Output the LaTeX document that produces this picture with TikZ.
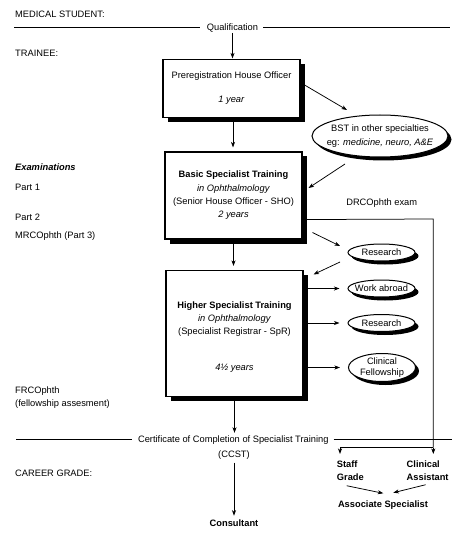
\documentclass[tikz,border=0pt]{standalone}
\usepackage{fontspec}
\setmainfont{Liberation Sans}
\usetikzlibrary{shapes.geometric,shadows,arrows.meta,calc}
\newcommand\dgfont{\fontsize{9.3}{13}\selectfont}
\newcommand\dgfontB{\fontsize{9.3}{13.3}\selectfont}
\begin{document}
\begin{tikzpicture}[x=1pt,y=-1pt,
  font=\dgfont,
  ln/.style={line width=0.75pt},
  arr/.style={ln,-{Stealth[length=5.5pt,width=4pt,inset=1.5pt]}},
  boxnode/.style={draw,line width=1.1pt,fill=white,align=center,inner sep=0pt,minimum width=137pt,
     drop shadow={shadow xshift=4.5pt,shadow yshift=-4.5pt,opacity=1,fill=black}},
  ell/.style={ellipse,draw,line width=1pt,fill=white,align=center,inner xsep=-6pt,inner ysep=-2pt,
     minimum width=67pt,minimum height=17pt,
     drop shadow={shadow xshift=3.5pt,shadow yshift=-3.5pt,opacity=1,fill=black}},
  txt/.style={inner sep=0pt,text height=6.6pt,text depth=0pt},
  lbl/.style={txt,anchor=west},
  grade/.style={inner sep=0pt,align=left,anchor=north west,font=\dgfont\bfseries},
]
\useasboundingbox (0,0) rectangle (474,545);
\fill[white] (0,0) rectangle (474,545);

% left labels
\node[lbl] (med) at (15,14.2) {MEDICAL STUDENT:};
\node[lbl] (trn) at (15,53.7) {TRAINEE:};
\node[lbl,font=\dgfont\bfseries\itshape] (exam) at (15,167.4) {Examinations};
\node[lbl] (p1) at (15,186.7) {Part 1};
\node[lbl] (p2) at (15,217.3) {Part 2};
\node[lbl] (p3) at (15,235) {MRCOphth (Part 3)};
\node[lbl] (fr) at (15,390) {FRCOphth};
\node[lbl] (fa) at (15,402.7) {(fellowship assesment)};
\node[lbl] (cg) at (15,473.3) {CAREER GRADE:};

% qualification rule
\node[txt] (qual) at (232.5,27.5) {Qualification};
\coordinate (ruleL) at (14,0);
\coordinate (ruleR) at (450,0);
\draw[ln] ([xshift=-7pt]qual.west) -- (qual.west -| ruleL);
\draw[ln] ([xshift=5pt]qual.east) -- (qual.east -| ruleR);

% boxes
\node[boxnode,minimum height=58pt] (prho) at (231.5,88.5)
  {Preregistration House Officer\\[11pt]\textit{1 year}};
\node[boxnode,minimum height=87pt,font=\dgfontB] (bst) at (233.5,195.5)
  {\textbf{Basic Specialist Training}\\\textit{in Ophthalmology}\\(Senior House Officer - SHO)\\\textit{2 years}};
\node[boxnode,minimum height=126pt,font=\dgfont] (hst) at (234.5,333.5)
  {\rule{0pt}{14pt}\textbf{Higher Specialist Training}\\\textit{in Ophthalmology}\\(Specialist Registrar - SpR)\\[22.5pt]\textit{4½ years}};

% ellipses
\node[ell,minimum width=136pt,minimum height=42pt,font=\fontsize{9.3}{13.4}\selectfont] (bstell) at (380,136)
  {BST in other specialties\\eg: \textit{medicine, neuro, A\&E}};
\node[ell] (resA) at (381.5,252.5) {Research};
\node[ell] (work) at (381.5,288.5) {Work abroad};
\node[ell] (resB) at (381.5,323) {Research};
\node[ell,minimum height=28pt,font=\fontsize{9.3}{11}\selectfont] (cf) at (382,367.5) {Clinical\\Fellowship};

\node[txt] (drc) at (381.7,202.4) {DRCOphth exam};

% CCST rule
\node[txt] (cert) at (233.3,439.3) {Certificate of Completion of Specialist Training};
\node[txt] (ccst) at (234,454.2) {(CCST)};
\coordinate (ccL) at (16,0);
\coordinate (ccR) at (451.7,0);
\draw[ln] ([xshift=-6pt]cert.west) -- (cert.west -| ccL);
\draw[ln] ([xshift=5pt]cert.east) -- (cert.east -| ccR);

% career grades
\node[txt,font=\dgfont\bfseries] (cons) at (234,522.7) {Consultant};
\node[grade] (staff) at (336.7,460.5) {Staff\\Grade};
\node[grade] (clin) at (406.5,460.5) {Clinical\\Assistant};
\node[txt,font=\dgfont\bfseries] (assoc) at (383,504.2) {Associate Specialist};

% main vertical arrows
\draw[arr] ([yshift=-2pt]qual.south) -- ([yshift=0.5pt]qual.south |- prho.north);
\draw[arr] ($(prho.south)+(1.5,0)$) -- ($(prho.south |- bst.north)+(1.5,-4)$);
\draw[arr] (bst.south) -- ($(bst.south |- hst.north)+(0,-4)$);
\draw[arr] (hst.south) -- ($(hst.south |- cert.north)+(0,-3)$);
\draw[arr] ($(ccst.south)+(0,5)$) -- ($(ccst.south |- cons.north)+(0,-3.5)$);

% side arrows
\draw[arr] ($(prho.east)+(4,-3.5)$) -- ($(bstell.center)+(-33,-26)$);
\draw[arr] ($(bstell.center)+(-35,28)$) -- ($(bst.east)+(6,-7.5)$);
\draw[arr] ($(bst.south east)+(10,-7)$) -- ($(resA.center)+(-41.5,-6.5)$);
\draw[arr] ($(resA.center)+(-41.5,9.5)$) -- ($(hst.north east)+(10,4.5)$);
\draw[arr] ($(hst.east |- work.center)+(4,0)$) -- ($(work.west)+(-8,0)$);
\draw[arr] ($(hst.east |- resB.center)+(4,0)$) -- ($(resB.west)+(-8,0)$);
\draw[arr] ($(hst.east |- cf.center)+(4,0)$) -- ($(cf.west)+(-8,0)$);

% DRCOphth route
\coordinate (dc) at (433.3,219);
\coordinate (jn) at (433.3,447.7);
\coordinate (sj) at (340,454);
\draw[ln] ($(bst.south east)+(3,-20)$) -- (dc) -- (jn);
\draw[arr] (jn) -- ($(jn)+(0,6.3)$);
\draw[arr] (jn) -| (sj);

% to associate specialist
\draw[arr] ($(staff.south west)+(10,5)$) -- ($(assoc.center)+(0.3,-10.9)$);
\draw[arr] ($(clin.south)+(-2,4)$) -- ($(assoc.center)+(10.3,-11.5)$);
\end{tikzpicture}
\end{document}
